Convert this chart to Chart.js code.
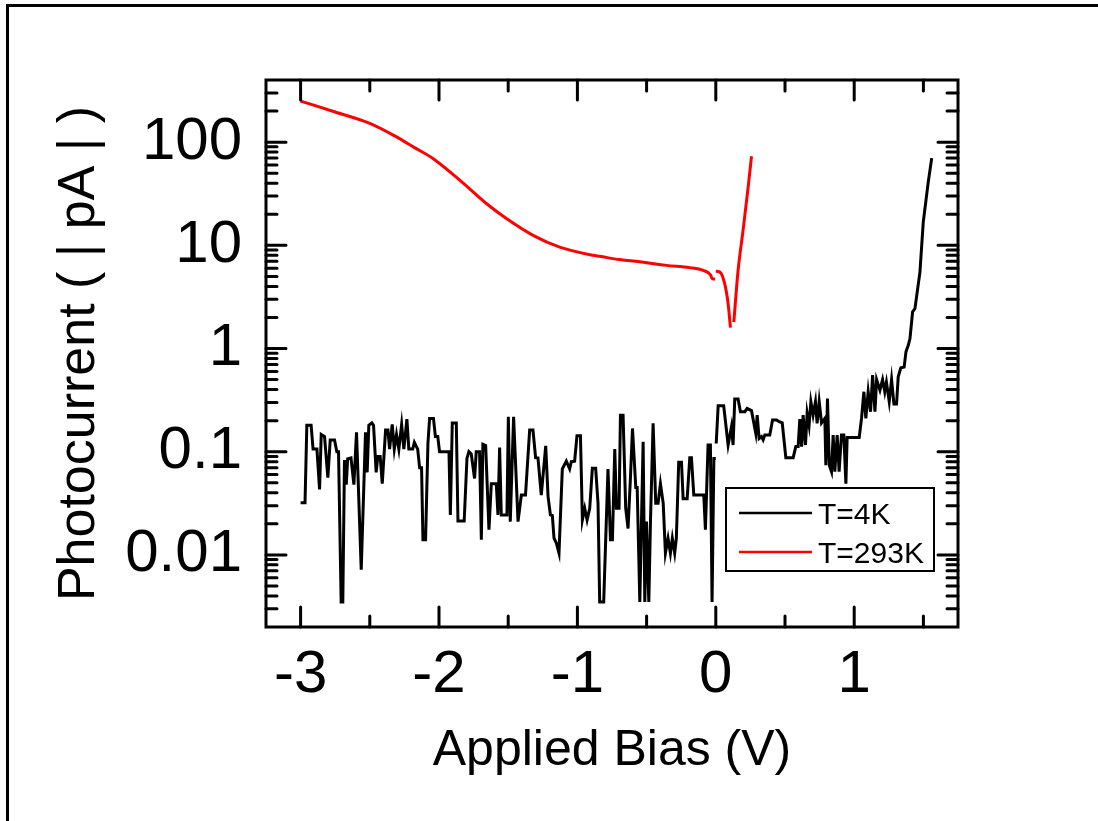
<!DOCTYPE html>
<html>
<head>
<meta charset="utf-8">
<script src="https://cdn.jsdelivr.net/npm/chart.js@4.4.1/dist/chart.umd.min.js"></script>
<style>
  html, body { margin: 0; padding: 0; background: #fff; }
  #wrap { position: relative; width: 1098px; height: 821px; }
</style>
</head>
<body>
<div id="wrap"><canvas id="ivChart" width="1098" height="821"></canvas></div>
<script>
// T = 4K photocurrent (null = gap at zero bias)
const bias4K = [
  -3.000, -2.968, -2.955, -2.924, -2.910, -2.882, -2.863, -2.851, -2.827, -2.803,
  -2.786, -2.755, -2.738, -2.726, -2.707, -2.695, -2.683, -2.670, -2.660, -2.636,
  -2.615, -2.596, -2.562, -2.531, -2.519, -2.507, -2.485, -2.473, -2.454, -2.442,
  -2.425, -2.410, -2.386, -2.369, -2.357, -2.338, -2.323, -2.307, -2.290, -2.270,
  -2.254, -2.232, -2.218, -2.190, -2.178, -2.154, -2.140, -2.126, -2.116, -2.097,
  -2.080, -2.068, -2.040, -2.026, -2.009, -1.996, -1.928, -1.918, -1.904, -1.875,
  -1.863, -1.818, -1.798, -1.784, -1.767, -1.743, -1.731, -1.707, -1.694, -1.683,
  -1.663, -1.639, -1.622, -1.586, -1.574, -1.562, -1.550, -1.509, -1.499, -1.485,
  -1.461, -1.429, -1.405, -1.375, -1.345, -1.321, -1.302, -1.285, -1.261, -1.229,
  -1.212, -1.195, -1.181, -1.169, -1.152, -1.133, -1.109, -1.080, -1.056, -1.044,
  -1.020, -1.003, -0.978, -0.964, -0.947, -0.930, -0.911, -0.892, -0.868, -0.851,
  -0.839, -0.810, -0.779, -0.761, -0.747, -0.730, -0.718, -0.699, -0.689, -0.670,
  -0.651, -0.634, -0.617, -0.602, -0.578, -0.568, -0.549, -0.537, -0.525, -0.513,
  -0.501, -0.484, -0.472, -0.453, -0.434, -0.417, -0.400, -0.380, -0.364, -0.345,
  -0.328, -0.314, -0.297, -0.285, -0.268, -0.248, -0.236, -0.207, -0.188, -0.176,
  -0.159, -0.087, -0.075, -0.056, -0.039, -0.027, -0.014, 0.000, 0.001, 0.003,
  0.017, 0.057, 0.089, 0.113, 0.125, 0.137, 0.161, 0.178, 0.210, 0.226,
  0.258, 0.289, 0.299, 0.313, 0.330, 0.342, 0.354, 0.390, 0.410, 0.439,
  0.458, 0.480, 0.506, 0.559, 0.578, 0.595, 0.607, 0.620, 0.631, 0.648,
  0.660, 0.674, 0.687, 0.703, 0.720, 0.732, 0.747, 0.764, 0.788, 0.795,
  0.807, 0.820, 0.836, 0.848, 0.860, 0.877, 0.891, 0.908, 0.925, 0.940,
  0.949, 0.993, 1.036, 1.053, 1.070, 1.084, 1.101, 1.118, 1.133, 1.150,
  1.162, 1.186, 1.205, 1.221, 1.233, 1.253, 1.270, 1.287, 1.306, 1.318,
  1.337, 1.361, 1.374, 1.391, 1.403, 1.422, 1.439, 1.475, 1.499, 1.535,
  1.560
];
const current4K = [
  0.032, 0.032, 0.18, 0.18, 0.106, 0.106, 0.043, 0.147, 0.14, 0.056,
  0.13, 0.13, 0.10, 0.10, 0.0035, 0.0035, 0.083, 0.048, 0.085, 0.087,
  0.048, 0.154, 0.0072, 0.154, 0.063, 0.18, 0.19, 0.18, 0.063, 0.09,
  0.09, 0.049, 0.162, 0.162, 0.106, 0.184, 0.106, 0.147, 0.106, 0.184,
  0.106, 0.207, 0.106, 0.106, 0.123, 0.106, 0.07, 0.07, 0.014, 0.014,
  0.12, 0.21, 0.21, 0.14, 0.14, 0.10, 0.10, 0.0244, 0.19, 0.19,
  0.0213, 0.0213, 0.086, 0.10, 0.095, 0.055, 0.10, 0.10, 0.014, 0.118,
  0.115, 0.0175, 0.049, 0.049, 0.0244, 0.11, 0.0244, 0.0244, 0.218, 0.021,
  0.218, 0.021, 0.038, 0.038, 0.162, 0.162, 0.0875, 0.087, 0.038, 0.114,
  0.0367, 0.0244, 0.024, 0.0145, 0.013, 0.0104, 0.068, 0.081, 0.068, 0.08,
  0.081, 0.143, 0.143, 0.0218, 0.0283, 0.0218, 0.0283, 0.069, 0.069, 0.0316,
  0.0035, 0.0035, 0.068, 0.014, 0.014, 0.106, 0.0283, 0.0283, 0.226, 0.226,
  0.0283, 0.018, 0.055, 0.168, 0.045, 0.045, 0.0035, 0.021, 0.125, 0.0035,
  0.021, 0.0035, 0.021, 0.188, 0.0316, 0.0316, 0.049, 0.0316, 0.0104, 0.0145,
  0.0104, 0.0145, 0.0104, 0.0145, 0.079, 0.079, 0.035, 0.035, 0.0875, 0.0875,
  0.038, 0.038, 0.0175, 0.116, 0.116, 0.0035, 0.086, 0.086, null, 0.12,
  0.278, 0.278, 0.116, 0.174, 0.116, 0.324, 0.324, 0.244, 0.244, 0.262,
  0.25, 0.15, 0.226, 0.134, 0.14, 0.13, 0.145, 0.145, 0.203, 0.203,
  0.195, 0.19, 0.0875, 0.0875, 0.112, 0.112, 0.207, 0.112, 0.226, 0.116,
  0.235, 0.18, 0.305, 0.226, 0.305, 0.188, 0.305, 0.19, 0.21, 0.074,
  0.328, 0.074, 0.064, 0.145, 0.064, 0.145, 0.064, 0.145, 0.145, 0.049,
  0.137, 0.137, 0.137, 0.21, 0.381, 0.21, 0.381, 0.244, 0.552, 0.244,
  0.50, 0.395, 0.50, 0.38, 0.47, 0.305, 0.50, 0.29, 0.29, 0.532,
  0.65, 0.66, 0.93, 1.08, 1.25, 2.27, 2.44, 5.5, 16.8, 41,
  70
];

// T = 293K photocurrent
const bias293K = [
  -3.000, -2.750, -2.500, -2.310, -2.180, -2.044, -1.850, -1.658, -1.513, -1.320,
  -1.128, -0.887, -0.839, -0.694, -0.598, -0.356, -0.188, -0.092, -0.040, -0.025,
  -0.005, -0.002, 0.000, 0.030, 0.065, 0.089, 0.106, 0.118, 0.130, 0.161,
  0.197, 0.234, 0.258
];
const current293K = [
  250, 196, 152, 113, 89, 69.5, 42.8, 25.4, 18.2, 12.5,
  9.6, 8.0, 7.82, 7.27, 7.04, 6.39, 6.08, 5.73, 5.2, 4.75,
  4.7, null, 5.6, 5.5, 4.2, 2.72, 1.59, null, 1.8, 5.7,
  14, 36.8, 73
];

const seriesNames = ['T=4K', 'T=293K'];
const seriesColors = ['#000000', '#ff0000'];

const xTickValues = [-3, -2, -1, 0, 1];
const xTickLabels = ['-3', '-2', '-1', '0', '1'];
const xMinorValues = [-2.5, -1.5, -0.5, 0.5, 1.5];
const yTickValues = [0.01, 0.1, 1, 10, 100];
const yTickLabels = ['0.01', '0.1', '1', '10', '100'];

const FONT = "'Liberation Sans', Arial, Helvetica, sans-serif";

function toPoints(xs, ys) {
  return xs.map((x, i) => ({ x: x, y: ys[i] }));
}

// minor log ticks 2..9 per decade, kept inside the axis range
function logMinors(min, max) {
  const out = [];
  for (let e = -4; e <= 3; e++) {
    for (let m = 2; m <= 9; m++) {
      const v = m * Math.pow(10, e);
      if (v > min && v < max) out.push(v);
    }
  }
  return out;
}

// outer page frame (top and left edges)
const pageFrame = {
  id: 'pageFrame',
  beforeDraw(chart) {
    const ctx = chart.ctx;
    ctx.save();
    ctx.fillStyle = '#fff';
    ctx.fillRect(0, 0, chart.width, chart.height);
    ctx.fillStyle = '#000';
    ctx.fillRect(6, 4, chart.width - 6, 3);
    ctx.fillRect(6, 4, 3, chart.height - 4);
    ctx.restore();
  }
};

// plot box with inward ticks on all four sides
const boxTicks = {
  id: 'boxTicks',
  afterDatasetsDraw(chart) {
    const { ctx, chartArea: a, scales } = chart;
    const x = scales.x, y = scales.y;
    const majorLen = 20, minorLen = 11;
    ctx.save();
    ctx.strokeStyle = '#000';
    ctx.lineWidth = 3;
    ctx.lineCap = 'round';
    ctx.beginPath();
    const xTick = (v, len) => {
      const px = x.getPixelForValue(v);
      ctx.moveTo(px, a.bottom); ctx.lineTo(px, a.bottom - len);
      ctx.moveTo(px, a.top); ctx.lineTo(px, a.top + len);
    };
    const yTick = (v, len) => {
      const py = y.getPixelForValue(v);
      ctx.moveTo(a.left, py); ctx.lineTo(a.left + len, py);
      ctx.moveTo(a.right, py); ctx.lineTo(a.right - len, py);
    };
    xTickValues.forEach(v => xTick(v, majorLen));
    xMinorValues.forEach(v => xTick(v, minorLen));
    yTickValues.forEach(v => yTick(v, majorLen));
    logMinors(y.min, y.max).forEach(v => yTick(v, minorLen));
    ctx.stroke();
    ctx.lineCap = 'square';
    ctx.strokeRect(a.left, a.top, a.right - a.left, a.bottom - a.top);
    ctx.restore();
  }
};

// boxed legend in the lower right of the plot
const boxLegend = {
  id: 'boxLegend',
  afterDraw(chart) {
    const { ctx, chartArea: a } = chart;
    const left = a.left + 460, top = a.top + 408, w = 208, h = 83;
    ctx.save();
    ctx.fillStyle = '#fff';
    ctx.fillRect(left, top, w, h);
    ctx.strokeStyle = '#000';
    ctx.lineWidth = 2;
    ctx.strokeRect(left, top, w, h);
    ctx.font = '30px ' + FONT;
    ctx.textBaseline = 'alphabetic';
    ctx.textAlign = 'left';
    seriesNames.forEach((name, i) => {
      const ly = top + 25 + i * 39;
      ctx.strokeStyle = seriesColors[i];
      ctx.lineWidth = 2.5;
      ctx.beginPath();
      ctx.moveTo(left + 13, ly);
      ctx.lineTo(left + 86, ly);
      ctx.stroke();
      ctx.fillStyle = '#000';
      ctx.fillText(name, left + 92, ly + 11);
    });
    ctx.restore();
  }
};

new Chart(document.getElementById('ivChart'), {
  type: 'line',
  data: {
    datasets: [
      {
        label: seriesNames[0],
        data: toPoints(bias4K, current4K),
        borderColor: seriesColors[0],
        borderWidth: 3,
        pointRadius: 0,
        tension: 0,
        spanGaps: false
      },
      {
        label: seriesNames[1],
        data: toPoints(bias293K, current293K),
        borderColor: seriesColors[1],
        borderWidth: 3,
        pointRadius: 0,
        cubicInterpolationMode: 'monotone',
        spanGaps: false
      }
    ]
  },
  options: {
    responsive: false,
    animation: false,
    events: [],
    layout: { padding: { top: 80, right: 140, bottom: 0, left: 0 } },
    plugins: {
      legend: { display: false },
      tooltip: { enabled: false }
    },
    scales: {
      x: {
        type: 'linear',
        min: -3.25,
        max: 1.75,
        afterFit(scale) { scale.height = 194; },
        afterBuildTicks(scale) { scale.ticks = xTickValues.map(v => ({ value: v })); },
        grid: { display: false, drawTicks: false },
        border: { display: false },
        ticks: {
          color: '#000',
          font: { family: FONT, size: 60 },
          padding: 12,
          maxRotation: 0,
          autoSkip: false,
          callback(value, index) { return xTickLabels[index]; }
        },
        title: {
          display: true,
          text: 'Applied Bias (V)',
          color: '#000',
          font: { family: FONT, size: 50 },
          padding: { top: 0, bottom: 40 }
        }
      },
      y: {
        type: 'logarithmic',
        min: 0.002,
        max: 400,
        afterFit(scale) { scale.width = 266; },
        afterBuildTicks(scale) { scale.ticks = yTickValues.map(v => ({ value: v })); },
        grid: { display: false, drawTicks: false },
        border: { display: false },
        ticks: {
          color: '#000',
          font: { family: FONT, size: 60 },
          padding: 24,
          autoSkip: false,
          callback(value, index) { return yTickLabels[index]; }
        },
        title: {
          display: true,
          text: 'Photocurrent ( | pA | )',
          color: '#000',
          font: { family: FONT, size: 52 },
          padding: { top: 48, bottom: 0 }
        }
      }
    }
  },
  plugins: [pageFrame, boxTicks, boxLegend]
});
</script>
</body>
</html>
